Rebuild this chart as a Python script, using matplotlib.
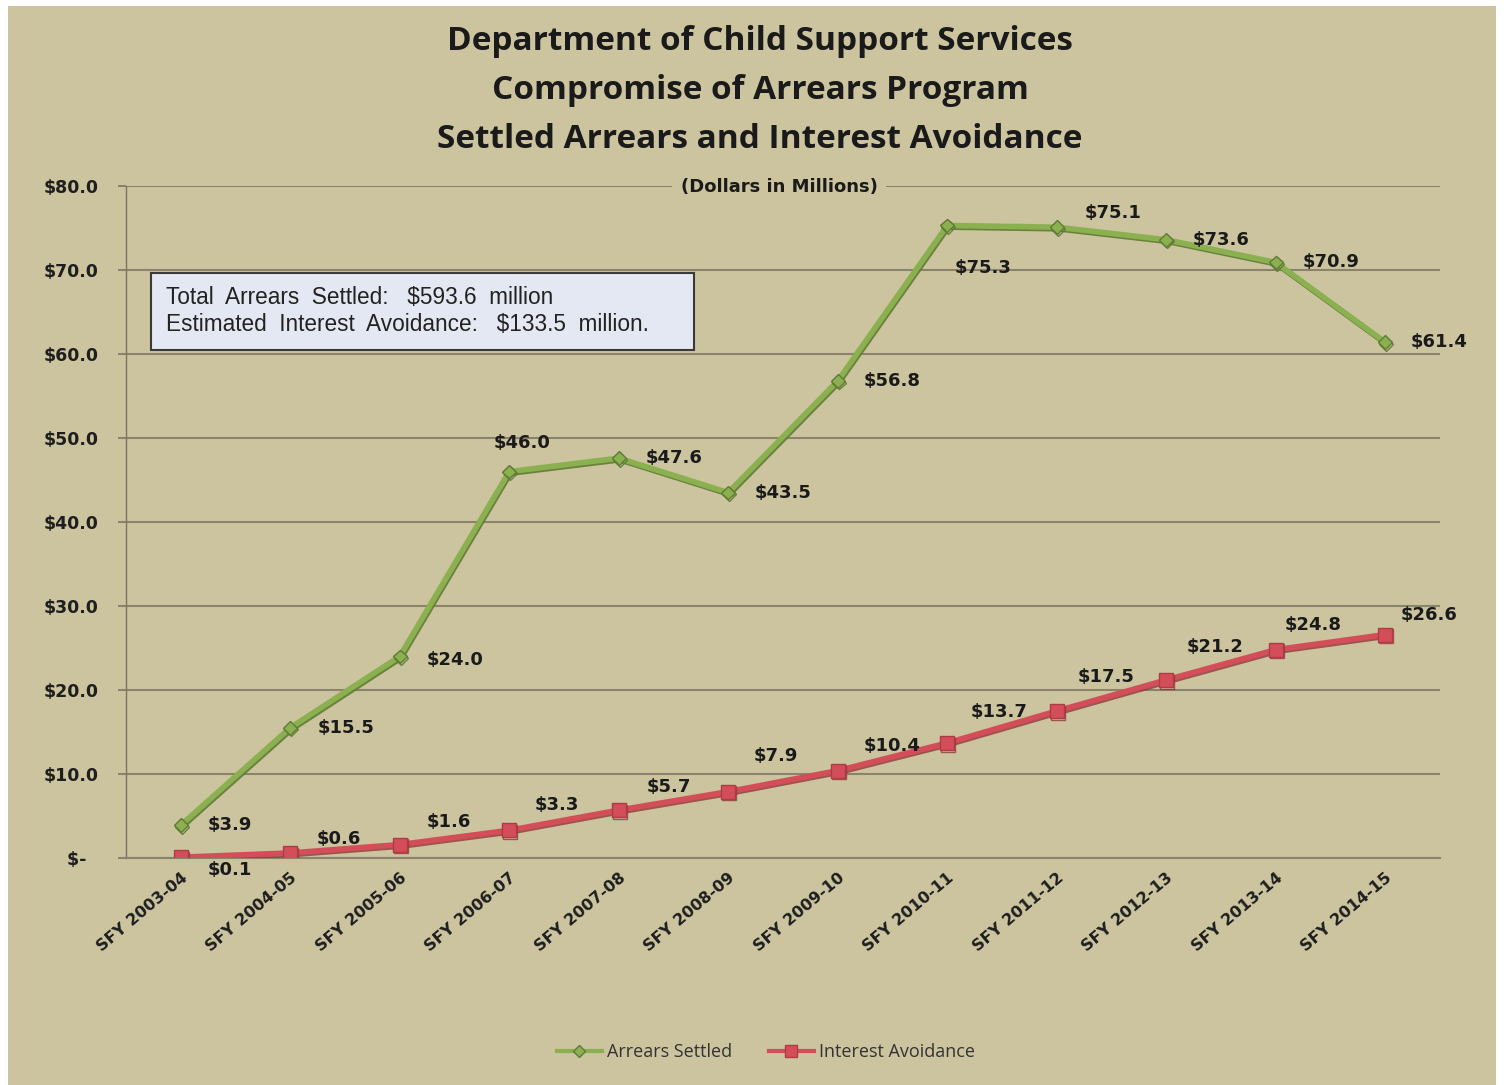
import matplotlib
matplotlib.use("Agg")
import matplotlib.pyplot as plt
import matplotlib.patheffects as pe
from matplotlib.patches import Rectangle
from matplotlib.lines import Line2D

categories = ["SFY 2003-04", "SFY 2004-05", "SFY 2005-06", "SFY 2006-07",
              "SFY 2007-08", "SFY 2008-09", "SFY 2009-10", "SFY 2010-11",
              "SFY 2011-12", "SFY 2012-13", "SFY 2013-14", "SFY 2014-15"]
arrears_settled = [3.9, 15.5, 24.0, 46.0, 47.6, 43.5, 56.8, 75.3, 75.1, 73.6, 70.9, 61.4]
interest_avoidance = [0.1, 0.6, 1.6, 3.3, 5.7, 7.9, 10.4, 13.7, 17.5, 21.2, 24.8, 26.6]
y_ticks = [0, 10, 20, 30, 40, 50, 60, 70, 80]
y_tick_labels = ["$-  ", "$10.0", "$20.0", "$30.0", "$40.0", "$50.0", "$60.0", "$70.0", "$80.0"]

# label offsets in pixels (styling)
green_off = [(49, 0), (56, 0), (55, -4), (13, 29), (55, 0), (55, 0), (54, 0),
             (36, -43), (56, 14), (55, 0), (55, 0), (54, 0)]
red_off = [(49, -13), (49, 14), (49, 23), (48, 25), (50, 23), (48, 36), (54, 25),
           (52, 31), (49, 34), (49, 33), (37, 25), (44, 20)]

BG = "#CCC39F"
GRID = "#8A846C"
GREEN = "#8BB050"
GREEN_D = "#5F7A34"
RED = "#D44E5A"
RED_D = "#8E3A3A"
LBL_FONT = "DejaVu Sans"

W, H = 1504, 1085
fig = plt.figure(figsize=(W / 100, H / 100), dpi=100)
fig.patch.set_facecolor("white")
fig.add_artist(Rectangle((8 / W, 0), (W - 16) / W, 1 - 6 / H, transform=fig.transFigure,
                         facecolor=BG, edgecolor="none", zorder=0))

ax = fig.add_axes([126 / W, 1 - 858 / H, (1440 - 126) / W, (858 - 186) / H])
ax.set_facecolor("none")
x = list(range(len(categories)))

ax.set_xlim(-0.5, len(categories) - 0.5)
ax.set_ylim(0, 80)
ax.set_yticks(y_ticks)
ax.set_yticklabels(y_tick_labels, fontsize=12.5, fontweight="bold", family=LBL_FONT,
                   color="#1E1E1E")
ax.set_xticks(x)
ax.set_xticklabels(categories, rotation=40, ha="right", rotation_mode="anchor",
                   fontsize=11.5, fontweight="bold", family=LBL_FONT, color="#1E1E1E")
ax.tick_params(axis="x", length=0, pad=9)
ax.tick_params(axis="y", length=6, pad=14, color=GRID, width=1.5)
ax.grid(axis="y", color=GRID, linewidth=1.5)
ax.set_axisbelow(True)
for s in ["top", "right"]:
    ax.spines[s].set_visible(False)
ax.spines["left"].set_color("#7A745E")
ax.spines["left"].set_linewidth(1)
ax.spines["bottom"].set_color(GRID)
ax.spines["bottom"].set_linewidth(1.5)

shadow = [pe.SimpleLineShadow(offset=(0.8, -1.2), shadow_color=GREEN_D, alpha=0.9), pe.Normal()]
ax.plot(x, arrears_settled, color=GREEN, linewidth=4, marker="D", markersize=7,
        markerfacecolor=GREEN, markeredgecolor=GREEN_D, path_effects=shadow, zorder=3)
shadow_r = [pe.SimpleLineShadow(offset=(0.8, -1.2), shadow_color=RED_D, alpha=0.8), pe.Normal()]
ax.plot(x, interest_avoidance, color=RED, linewidth=4, marker="s", markersize=10,
        markerfacecolor=RED, markeredgecolor="#B03A45", path_effects=shadow_r, zorder=4)

for xi, v, off in zip(x, arrears_settled, green_off):
    ax.annotate(f"${v:.1f}", (xi, v), xytext=off, textcoords="offset pixels",
                ha="center", va="center", fontsize=13, fontweight="bold",
                family=LBL_FONT, color="#1A1A1A", zorder=5)
for xi, v, off in zip(x, interest_avoidance, red_off):
    ax.annotate(f"${v:.1f}", (xi, v), xytext=off, textcoords="offset pixels",
                ha="center", va="center", fontsize=13, fontweight="bold",
                family=LBL_FONT, color="#1A1A1A", zorder=5)

# subtitle over the top gridline
fig.text(779 / W, 1 - 187 / H, "(Dollars in Millions)", ha="center", va="center",
         fontsize=13, fontweight="bold", family="Liberation Sans Narrow", color="#1A1A1A",
         bbox=dict(facecolor=BG, edgecolor="none", pad=6), zorder=6)

# title
title_lines = ["Department of Child Support Services",
               "Compromise of Arrears Program",
               "Settled Arrears and Interest Avoidance"]
for i, t in enumerate(title_lines):
    fig.text(760 / W, 1 - (42 + 48.5 * i) / H, t, ha="center", va="center",
             fontsize=24, fontweight="bold", family="Open Sans", color="#1A1A1A")

# summary box
fig.add_artist(Rectangle((151 / W, 1 - 350 / H), (694 - 151) / W, (350 - 273) / H,
                         transform=fig.transFigure, facecolor="#E4E8F2",
                         edgecolor="#3A3A3A", linewidth=1.5, zorder=6))
fig.text(166 / W, 1 - 297 / H, "Total  Arrears  Settled:   $593.6  million",
         ha="left", va="center", fontsize=16.3, family="Liberation Sans", color="#222222", zorder=7)
fig.text(166 / W, 1 - 325 / H, "Estimated  Interest  Avoidance:   $133.5  million.",
         ha="left", va="center", fontsize=16.3, family="Liberation Sans", color="#222222", zorder=7)

# legend
handles = [Line2D([], [], color=GREEN, linewidth=3, marker="D", markersize=6,
                  markerfacecolor=GREEN, markeredgecolor=GREEN_D),
           Line2D([], [], color=RED, linewidth=3, marker="s", markersize=8,
                  markerfacecolor=RED, markeredgecolor="#B03A45")]
fig.legend(handles, ["Arrears Settled", "Interest Avoidance"], loc="center",
           bbox_to_anchor=(766 / W, 1 - 1052 / H), ncol=2, frameon=False,
           prop={"family": "Open Sans", "size": 13}, handlelength=2.5,
           columnspacing=2.0, handletextpad=0.3, labelcolor="#333333")

fig.savefig("out.png", dpi=100, facecolor=fig.get_facecolor())
